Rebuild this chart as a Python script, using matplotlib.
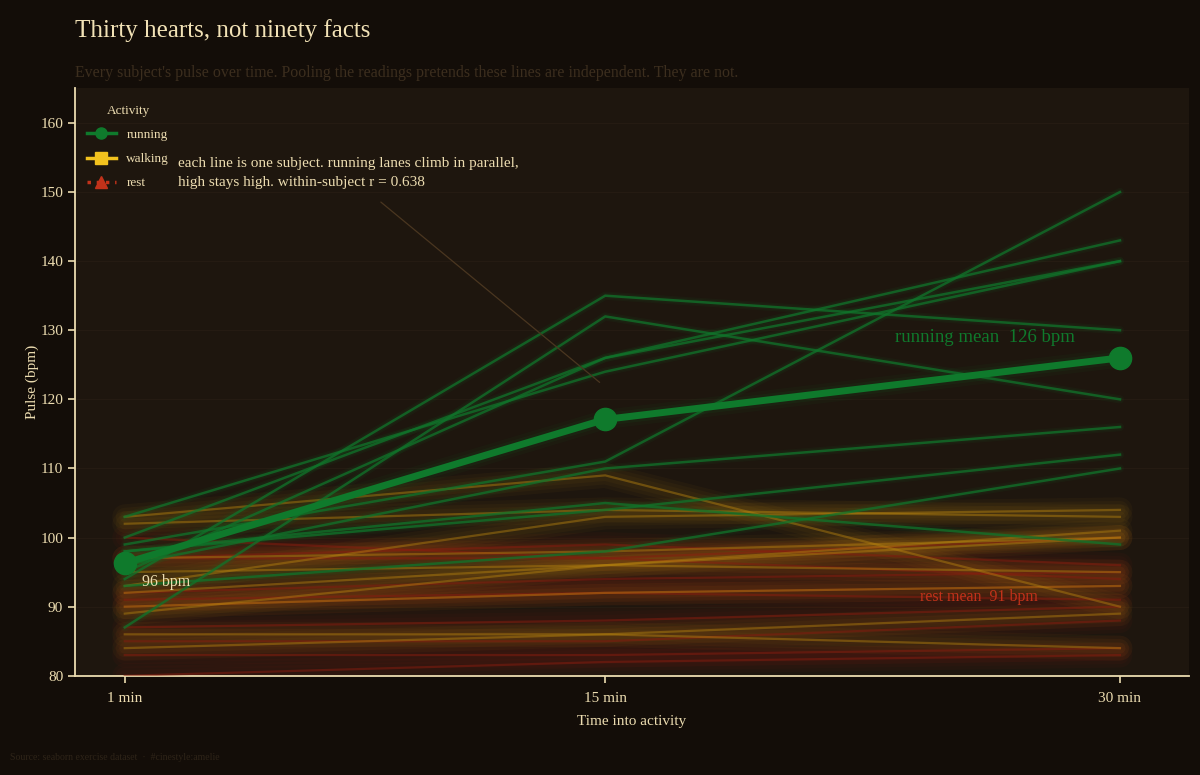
import numpy as np
import matplotlib
matplotlib.use("Agg")
import matplotlib.pyplot as plt
from matplotlib.lines import Line2D

plt.rcParams['font.family'] = ['Liberation Serif', 'DejaVu Serif']

# seaborn exercise dataset, one row per subject: pulse at 1, 15, 30 min
times = [1, 15, 30]
time_labels = ["1 min", "15 min", "30 min"]

rest_pulse = [
    [85, 85, 88], [90, 92, 93], [97, 97, 94], [80, 82, 83], [91, 92, 91],
    [83, 83, 84], [87, 88, 90], [92, 94, 95], [97, 99, 96], [100, 97, 100],
]
walking_pulse = [
    [86, 86, 84], [93, 103, 104], [90, 92, 93], [95, 96, 100], [89, 96, 95],
    [84, 86, 89], [103, 109, 90], [92, 96, 101], [97, 98, 100], [102, 104, 103],
]
running_pulse = [
    [93, 98, 110], [98, 104, 112], [98, 105, 99], [87, 132, 120], [96, 110, 116],
    [95, 126, 143], [100, 126, 140], [103, 124, 140], [94, 135, 130], [99, 111, 150],
]

BG = "#130d08"
PANEL = "#1e160e"
CREAM = "#ecdcb0"
GREEN = "#0f7a2c"
GOLD = "#f2c21e"
RED = "#c2321a"

fig = plt.figure(figsize=(12, 7.75), dpi=100, facecolor=BG)
ax = fig.add_axes([0.0625, 0.128, 0.928, 0.758])
ax.set_facecolor(PANEL)

ax.set_xlim(-0.45, 32)
ax.set_ylim(80, 165)
ax.set_yticks(range(80, 161, 10))
ax.grid(axis='y', color="#251b12", lw=0.8)
ax.set_axisbelow(True)

# glowing subject lines
def glow_line(y, color, core_alpha, halo, halo_alpha, lw=1.6):
    for w in halo:
        ax.plot(times, y, color=color, lw=w, alpha=halo_alpha,
                solid_capstyle='round', zorder=2)
    ax.plot(times, y, color=color, lw=lw, alpha=core_alpha, zorder=3)

for y in rest_pulse:
    glow_line(y, "#8a1c0e", 0.5, [18, 13, 8], 0.06)
for y in walking_pulse:
    glow_line(y, "#b8840e", 0.45, [18, 13, 8], 0.05)
for y in running_pulse:
    glow_line(y, "#10742b", 0.75, [6, 4], 0.07, lw=1.8)

# running mean
run_mean = np.mean(running_pulse, axis=0)
rest_mean = np.mean(rest_pulse, axis=0)
for w, a in [(14, 0.05), (9, 0.09)]:
    ax.plot(times, run_mean, color=GREEN, lw=w, alpha=a, solid_capstyle='round', zorder=4)
ax.plot(times, run_mean, color=GREEN, lw=5, marker='o', markersize=16, zorder=5)

ax.text(times[2] - 1.3, run_mean[2] + 3, "running mean  %d bpm" % round(run_mean[2]),
        color=GREEN, fontsize=13.5, ha='right', va='center', zorder=6)
ax.text(27.6, rest_mean[2], "rest mean  %d bpm" % round(rest_mean[2]),
        color=RED, fontsize=11.5, ha='right', va='center', zorder=6)
ax.text(1.5, run_mean[0] - 2.8, "%d bpm" % round(run_mean[0]),
        color=CREAM, fontsize=11.5, ha='left', va='center', zorder=6)

ax.text(2.55, 155.1, "each line is one subject. running lanes climb in parallel,\nhigh stays high. within-subject r = 0.638",
        color=CREAM, fontsize=11, ha='left', va='top', linespacing=1.65, zorder=6)
ax.annotate("", xy=(14.9, 122.2), xytext=(8.4, 148.8),
            arrowprops=dict(arrowstyle='-', color="#4a3620", lw=0.9), zorder=6)

# legend
handles = [
    Line2D([], [], color=GREEN, lw=2.5, marker='o', markersize=8),
    Line2D([], [], color=GOLD, lw=2.5, marker='s', markersize=8),
    Line2D([], [], color=RED, lw=2.5, ls=':', marker='^', markersize=8),
]
leg = ax.legend(handles, ["running", "walking", "rest"], title="Activity",
                loc='upper left', frameon=False, fontsize=9.5, title_fontsize=9.5,
                labelcolor=CREAM, handlelength=2.2, labelspacing=0.9,
                bbox_to_anchor=(0.0, 0.992))
leg.get_title().set_color(CREAM)

ax.set_xticks(times)
ax.set_xticklabels(time_labels)
ax.tick_params(colors=CREAM, labelsize=11, length=5, width=1.2)
ax.tick_params(axis='x', pad=7)
for s in ['top', 'right']:
    ax.spines[s].set_visible(False)
for s in ['left', 'bottom']:
    ax.spines[s].set_color(CREAM)
    ax.spines[s].set_linewidth(1.3)

ax.set_xlabel("Time into activity", color=CREAM, fontsize=11, labelpad=7)
ax.set_ylabel("Pulse (bpm)", color=CREAM, fontsize=11, labelpad=1)

fig.text(0.0625, 0.961, "Thirty hearts, not ninety facts", color="#f2e2b6",
         fontsize=18, ha='left', va='center')
fig.text(0.0625, 0.906, "Every subject's pulse over time. Pooling the readings pretends these lines are independent. They are not.",
         color="#3c2e1e", fontsize=11.4, ha='left', va='center')
fig.text(0.008, 0.022, "Source: seaborn exercise dataset  \u00b7  #cinestyle:amelie",
         color="#2e2418", fontsize=7, ha='left', va='center')

fig.savefig("out.png", dpi=100, facecolor=BG)
